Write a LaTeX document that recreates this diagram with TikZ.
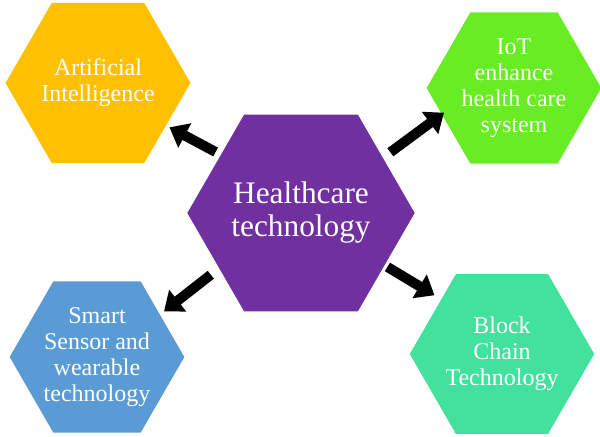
\documentclass[tikz,border=0pt]{standalone}
\usepackage{fontspec}
\setmainfont{Liberation Serif}
\usetikzlibrary{shapes.geometric,arrows.meta}

\definecolor{hcpurple}{HTML}{7030A0}
\definecolor{aiorange}{HTML}{FFC000}
\definecolor{iotgreen}{HTML}{68EC24}
\definecolor{ssblue}{HTML}{5B9BD5}
\definecolor{bcteal}{HTML}{43E19E}

\tikzset{
  hexa/.style={regular polygon, regular polygon sides=6,
    inner sep=0pt, outer sep=0pt, minimum size=131pt, text=white, align=center,
    font=\fontsize{18}{19.5}\selectfont},
  bigarrow/.style={line width=7.5pt, -{Triangle[width=20pt, length=13pt]}}
}

\begin{document}
\begin{tikzpicture}[x=0.75pt, y=-0.75pt]
\useasboundingbox (0,0) rectangle (600,436);
\node[hexa, fill=hcpurple, minimum size=159pt, font=\fontsize{23.5}{24.75}\selectfont]
   (hc) at (301,213) {Healthcare\\technology};
\node[hexa, fill=aiorange] (ai) at (98,83) {Artificial\\Intelligence};
\node[hexa, fill=iotgreen] (iot) at (514,88) {IoT\\enhance\\health care\\system};
\node[hexa, fill=ssblue] (ss) at (97,357) {Smart\\Sensor and\\wearable\\technology};
\node[hexa, fill=bcteal] (bc) at (502,354) {Block\\Chain\\Technology};
% arrows out of the centre
\draw[bigarrow, shorten <=4.5pt, shorten >=3pt] (hc.144) -- (ai.328);
\draw[bigarrow, shorten <=7pt, shorten >=-2pt] (hc.34) -- (iot.200);
\draw[bigarrow, shorten <=8pt, shorten >=4pt] (hc.214) -- (ss.34);
\draw[bigarrow, shorten <=2.5pt, shorten >=6pt] (hc.328) -- (bc.138);
\end{tikzpicture}
\end{document}
